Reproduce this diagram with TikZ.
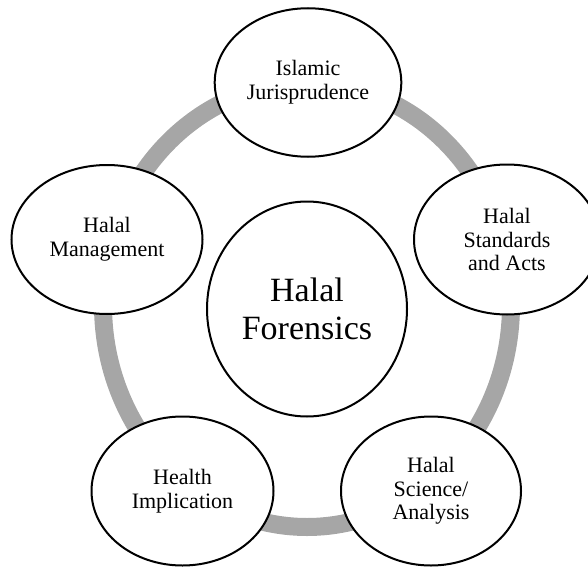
\documentclass[tikz,border=0pt]{standalone}
\usepackage{fontspec}
\setmainfont{Liberation Serif}
\usetikzlibrary{shapes.geometric}
\definecolor{ringgrey}{HTML}{A6A6A6}
\begin{document}
\begin{tikzpicture}[x=1pt,y=-1pt,
  bubble/.style={ellipse, draw=black, line width=2pt, fill=white, inner sep=0pt,
    align=center, font=\fontsize{22}{23.7}\selectfont},
  ringline/.style={draw=ringgrey, line width=18pt}]
\useasboundingbox (0,0) rectangle (588,567);
\clip (0,0) rectangle (588,567);
\coordinate (ringc) at (307,305);
\draw[ringline] (ringc) ellipse [x radius=204, y radius=222];
\node[bubble, minimum width=200pt, minimum height=215pt,
  font=\fontsize{34}{38}\selectfont] (center) at (307,309) {Halal\\Forensics};
\node[bubble, minimum width=186.6pt, minimum height=148.5pt] (isl) at (308,82.5) {Islamic\\Jurisprudence};
\node[bubble, minimum width=191pt, minimum height=149pt] (mgmt) at (107,239.5) {Halal\\Management};
\node[bubble, minimum width=186pt, minimum height=150pt] (std) at (507,239.5) {Halal\\Standards\\and Acts};
\node[bubble, minimum width=182pt, minimum height=149pt] (health) at (182.5,491) {Health\\Implication};
\node[bubble, minimum width=180pt, minimum height=149pt] (sci) at (431,491) {Halal\\Science/\\Analysis};
\end{tikzpicture}
\end{document}
